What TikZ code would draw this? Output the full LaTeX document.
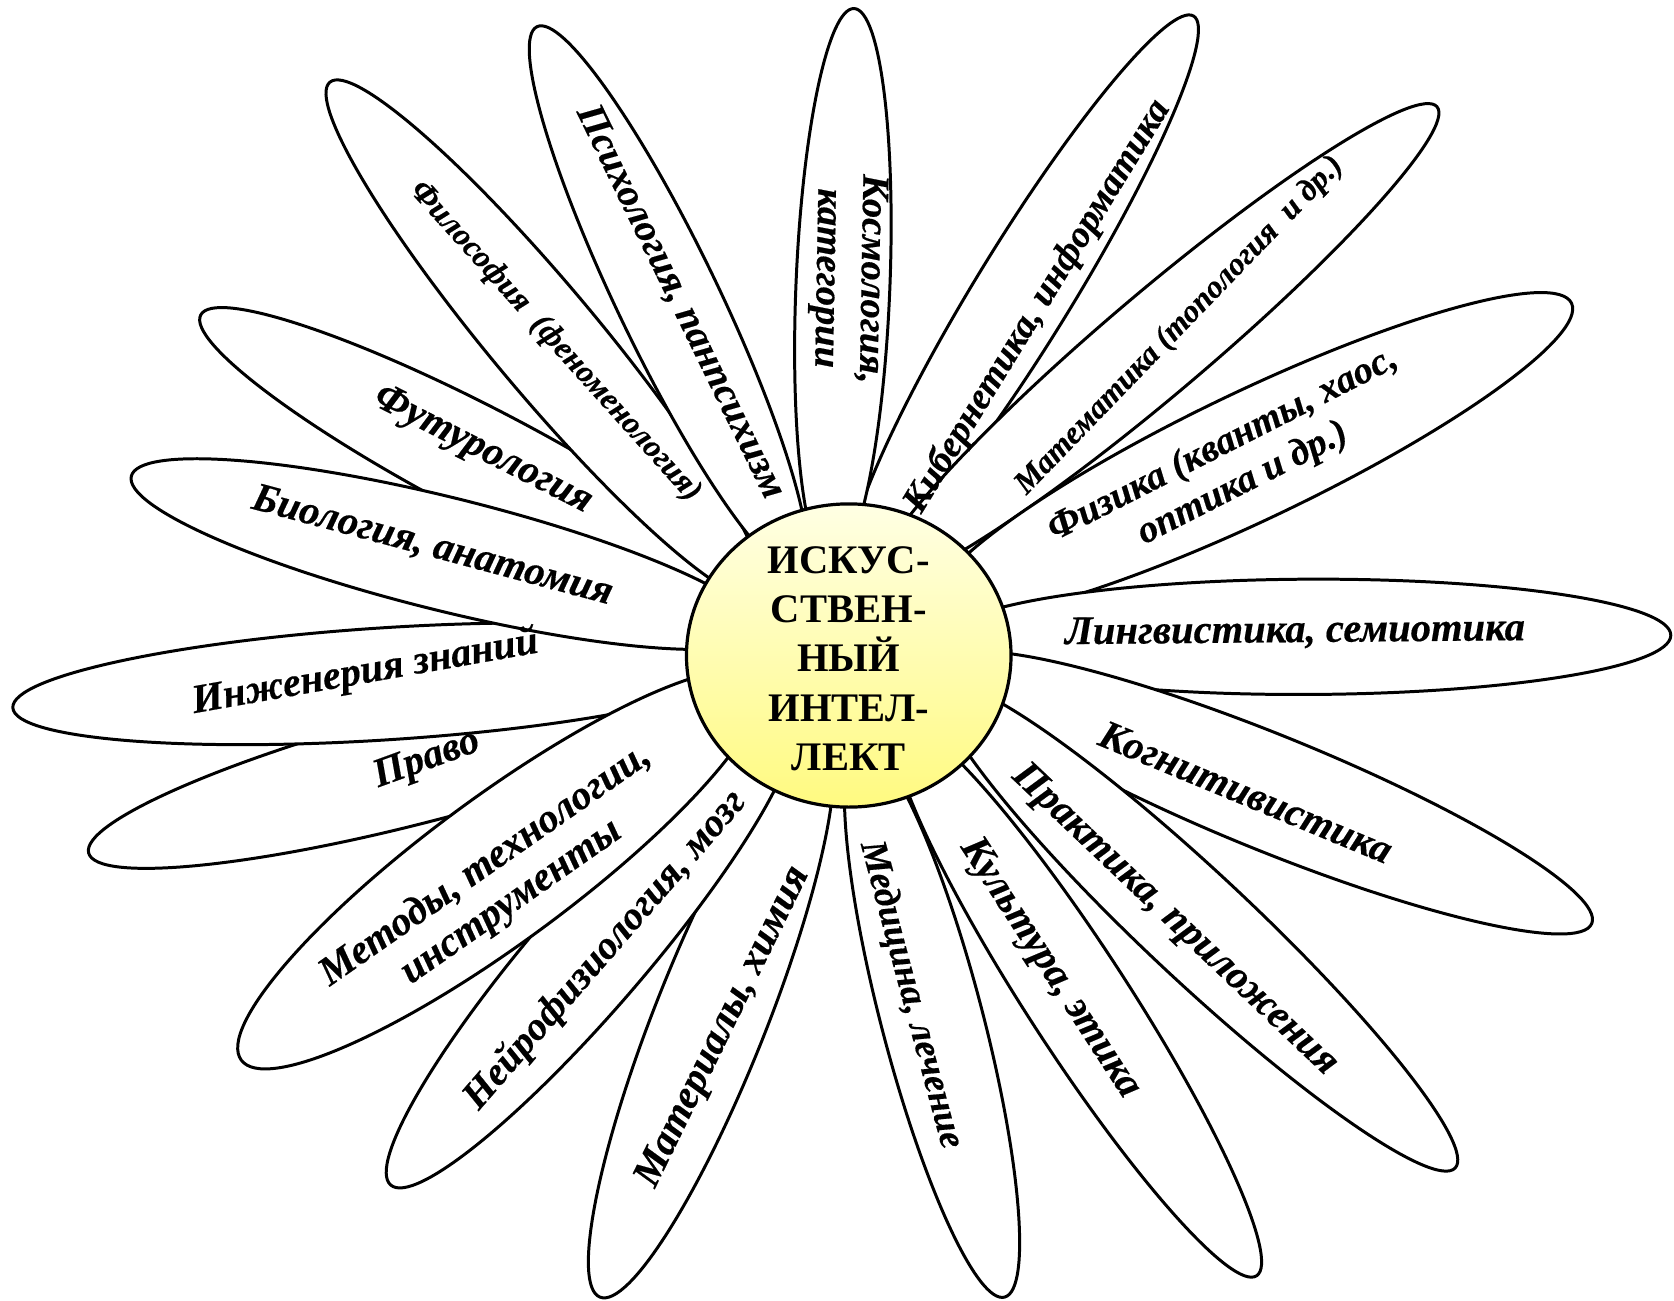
\documentclass[tikz,border=0pt]{standalone}
\usepackage{fontspec}
\setmainfont{Liberation Serif}[BoldItalicFeatures={FakeBold=0.4}]
\usetikzlibrary{shapes.geometric,calc}
\tikzset{
  petalshape/.style={ellipse, draw=black, fill=white, line width=1.4pt, inner sep=0pt, outer sep=0pt},
  lbl/.style={font=\bfseries\itshape\fontsize{19}{21}\selectfont, inner sep=0pt, align=center},
  hub/.style={ellipse, draw=black, line width=1.5pt, inner sep=0pt,
    minimum width=152pt, minimum height=142pt,
    top color={rgb,255:red,255;green,255;blue,228},
    bottom color={rgb,255:red,255;green,250;blue,128}},
  hubtext/.style={font=\bfseries\fontsize{19}{23}\selectfont, align=center, inner sep=0pt}
}
% #1 name, #2 tip, #3 inner end, #4 full width (picture units)
\newcommand\petal[4]{%
  \path let \p1=(#2), \p2=(#3),
    \n1={atan2(\y1-\y2,\x1-\x2)}, \n2={veclen(\x1-\x2,\y1-\y2)} in
    node[petalshape, minimum width=\n2, minimum height=#4*0.5pt, rotate=\n1] (#1) at ($(#2)!0.5!(#3)$) {};}
\begin{document}
\begin{tikzpicture}[x=0.5pt,y=-0.5pt]
\useasboundingbox (0,0) rectangle (1568,1218);
% petals (back to front)
\petal{futuro}{188,295}{720,573}{100}
\petal{kiber}{1118,15}{801,531}{90}
\petal{pravo}{83,799}{713,634}{105}
\petal{inzh}{12,663}{710,618}{105}
\petal{bio}{123,446}{712,592}{106}
\petal{philo}{309,77}{711,558}{100}
\petal{psych}{503,25}{749,537}{95}
\petal{cosm}{800,8}{779,530}{88}
\petal{math}{1346,100}{823,543}{95}
\petal{phys}{1472,284}{875,569}{120}
\petal{ling}{1565,595}{886,598}{108}
\petal{kogn}{1491,865}{888,620}{108}
\petal{prakt}{1363,1094}{882,643}{100}
\petal{kult}{1177,1195}{842,678}{95}
\petal{medic}{941,1215}{805,695}{95}
\petal{mater}{562,1215}{770,690}{105}
\petal{neuro}{366,1110}{739,676}{105}
\petal{methods}{226,993}{710,636}{136}
% centre
\node[hub] (hub) at (795,614) {};
\node[hubtext] (hubt) at (795,617) {ИСКУС-\\СТВЕН-\\НЫЙ\\ИНТЕЛ-\\ЛЕКТ};
% labels
\node[lbl, rotate=-91, font=\bfseries\itshape\fontsize{18}{21}\selectfont] (tcosm) at (794,261) {Космология,\\категории};
\node[lbl, rotate=-64, font=\bfseries\itshape\fontsize{18.5}{21}\selectfont] (tpsych) at (637,283) {Психология, панпсихизм};
\node[lbl, rotate=-48, font=\bfseries\itshape\fontsize{15}{18}\selectfont] (tphilo) at (520,320) {Философия\ \ (феноменология)};
\node[lbl, rotate=-27] (tfuturo) at (452,422) {Футурология};
\node[lbl, rotate=-15] (tbio) at (405,512) {Биология, анатомия};
\node[lbl, rotate=10] (tinzh) at (342,630) {Инженерия знаний};
\node[lbl, rotate=20] (tpravo) at (400,712) {Право};
\node[lbl, rotate=35] (tmethods) at (467,828) {Методы, технологии,\\инструменты};
\node[lbl, rotate=49, font=\bfseries\itshape\fontsize{18.5}{21}\selectfont] (tneuro) at (567,890) {Нейрофизиология, мозг};
\node[lbl, rotate=64] (tmater) at (678,962) {Материалы, химия};
\node[lbl, rotate=-75, font=\bfseries\itshape\fontsize{17.5}{21}\selectfont] (tmedic) at (853,932) {Медицина, лечение};
\node[lbl, rotate=-57] (tkult) at (983,907) {Культура, этика};
\node[lbl, rotate=-43.5] (tprakt) at (1100,862) {Практика, приложения};
\node[lbl, rotate=-22.5] (tkogn) at (1167,742) {Когнитивистика};
\node[lbl, rotate=0.5] (tling) at (1213,592) {Лингвистика, семиотика};
\node[lbl, rotate=27, font=\bfseries\itshape\fontsize{18}{20.5}\selectfont] (tphys) at (1155,435) {Физика (кванты, хаос,\\оптика и др.)};
\node[lbl, rotate=46, font=\bfseries\itshape\fontsize{15}{18}\selectfont] (tmath) at (1105,305) {Математика (топология\ \ и др.)};
\node[lbl, rotate=58.5, font=\bfseries\itshape\fontsize{17.5}{21}\selectfont] (tkiber) at (972,287) {Кибернетика, информатика};
\end{tikzpicture}
\end{document}
